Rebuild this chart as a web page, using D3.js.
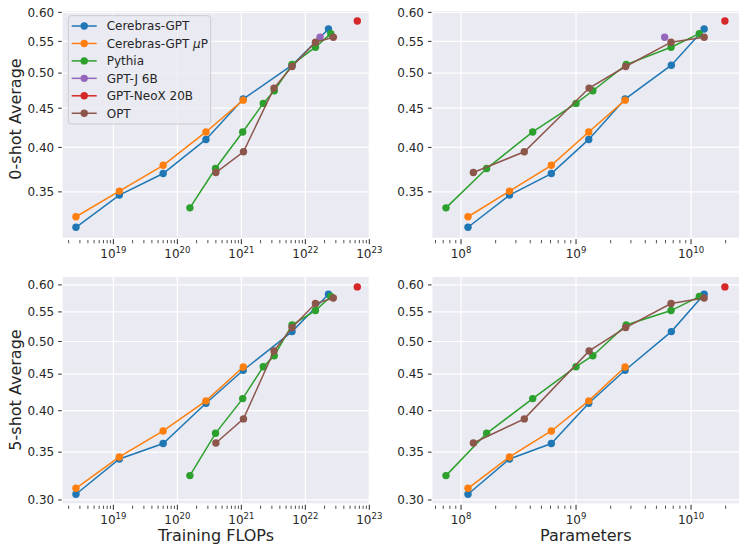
<!DOCTYPE html>
<html><head><meta charset="utf-8">
<script src="https://cdn.jsdelivr.net/npm/d3@7"></script>
<style>
html,body{margin:0;padding:0;background:#fff;}
svg{display:block;font-family:"DejaVu Sans",sans-serif;}
</style></head>
<body>
<svg id="c" width="747" height="554"></svg>
<script>
// ---- data ----
const seriesNames = ["Cerebras-GPT", "Cerebras-GPT μP", "Pythia", "GPT-J 6B", "GPT-NeoX 20B", "OPT"];
const seriesColors = ["#1f77b4", "#ff7f0e", "#2ca02c", "#9467bd", "#d62728", "#8c564b"];

const cerebrasFlops  = [2.6e18, 1.24e19, 6.0e19, 2.8e20, 1.07e21, 6.2e21, 2.3e22];
const cerebrasParams = [1.15e8, 2.64e8, 6.1e8, 1.29e9, 2.67e9, 6.74e9, 1.3e10];
const cerebras0shot  = [0.3147, 0.3466, 0.3698, 0.4097, 0.4625, 0.512, 0.5708];
const cerebras5shot  = [0.3056, 0.3424, 0.3599, 0.4097, 0.4557, 0.5162, 0.5822];

const muPFlops  = [2.6e18, 1.24e19, 6.0e19, 2.8e20, 1.07e21];
const muPParams = [1.15e8, 2.64e8, 6.1e8, 1.29e9, 2.67e9];
const muP0shot  = [0.3248, 0.3508, 0.3791, 0.419, 0.461];
const muP5shot  = [0.3115, 0.3446, 0.3747, 0.4129, 0.4605];

const pythiaFlops  = [1.57e20, 3.95e20, 1.05e21, 2.2e21, 3.27e21, 6.2e21, 1.44e22, 2.5e22];
const pythiaParams = [7.4e7, 1.67e8, 4.2e8, 1.0e9, 1.4e9, 2.73e9, 6.7e9, 1.18e10];
const pythia0shot  = [0.3336, 0.3754, 0.419, 0.4565, 0.4742, 0.513, 0.5404, 0.5629];
const pythia5shot  = [0.3245, 0.3719, 0.4159, 0.461, 0.4776, 0.5274, 0.5524, 0.5779];

const gptjFlops  = [1.7e22];
const gptjParams = [5.9e9];
const gptj0shot  = [0.5569];
const gptj5shot  = [null];

const neoxFlops  = [6.5e22];
const neoxParams = [1.97e10];
const neox0shot  = [0.5846];
const neox5shot  = [0.5962];

const optFlops  = [4.0e20, 1.08e21, 3.24e21, 6.2e21, 1.44e22, 2.74e22];
const optParams = [1.28e8, 3.55e8, 1.3e9, 2.7e9, 6.7e9, 1.3e10];
const opt0shot  = [0.3709, 0.3948, 0.478, 0.51, 0.5486, 0.5569];
const opt5shot  = [0.3605, 0.3896, 0.485, 0.523, 0.565, 0.5753];

const yTicksTop = [0.35, 0.40, 0.45, 0.50, 0.55, 0.60];
const yTicksBottom = [0.30, 0.35, 0.40, 0.45, 0.50, 0.55, 0.60];
const yLabels = ["0-shot Average", "5-shot Average"];
const xLabels = ["Training FLOPs", "Parameters"];

// ---- build table ----
const table = [
  {flops: cerebrasFlops, params: cerebrasParams, s0: cerebras0shot, s5: cerebras5shot},
  {flops: muPFlops, params: muPParams, s0: muP0shot, s5: muP5shot},
  {flops: pythiaFlops, params: pythiaParams, s0: pythia0shot, s5: pythia5shot},
  {flops: gptjFlops, params: gptjParams, s0: gptj0shot, s5: gptj5shot},
  {flops: neoxFlops, params: neoxParams, s0: neox0shot, s5: neox5shot},
  {flops: optFlops, params: optParams, s0: opt0shot, s5: opt5shot},
].map((d, i) => ({...d, name: seriesNames[i], color: seriesColors[i]}));

const svg = d3.select("#c");
const textColor = "#262626";
const bg = "#eaeaf2";

const colsX = [
  {key: "flops", range: [62.7, 369.3], domain: [Math.pow(10, 18.208), Math.pow(10, 23.0)]},
  {key: "params", range: [432.5, 739], domain: [Math.pow(10, 7.752), Math.pow(10, 10.417)]},
];
const rowsY = [
  {key: "s0", range: [237.7, 11], domain: [0.305, 0.6025], ticks: yTicksTop, label: yLabels[0], labelY: 119},
  {key: "s5", range: [503.3, 277], domain: [0.2968, 0.6155], ticks: yTicksBottom, label: yLabels[1], labelY: 390},
];

rowsY.forEach((row, ri) => {
  colsX.forEach((col, ci) => {
    const x = d3.scaleLog().domain(col.domain).range(col.range);
    const y = d3.scaleLog().domain(row.domain).range(row.range);
    const g = svg.append("g");
    const [x0, x1] = col.range, [y1, y0] = row.range;
    g.append("rect").attr("x", x0).attr("y", y0).attr("width", x1 - x0).attr("height", y1 - y0).attr("fill", bg);

    const allX = x.ticks();
    const isMajor = v => Math.abs(Math.log10(v) - Math.round(Math.log10(v))) < 1e-6;
    const majors = allX.filter(isMajor);
    const minors = allX.filter(v => !isMajor(v));

    // grid
    g.selectAll(null).data(majors).enter().append("line")
      .attr("x1", d => x(d)).attr("x2", d => x(d)).attr("y1", y0).attr("y2", y1)
      .attr("stroke", "#fff").attr("stroke-width", 1.2);
    g.selectAll(null).data(row.ticks).enter().append("line")
      .attr("x1", x0).attr("x2", x1).attr("y1", d => y(d)).attr("y2", d => y(d))
      .attr("stroke", "#fff").attr("stroke-width", 1.2);

    // x ticks
    g.selectAll(null).data(majors).enter().append("line")
      .attr("x1", d => x(d)).attr("x2", d => x(d)).attr("y1", y1 + 1.5).attr("y2", y1 + 6.5)
      .attr("stroke", textColor).attr("stroke-width", 1);
    g.selectAll(null).data(minors).enter().append("line")
      .attr("x1", d => x(d)).attr("x2", d => x(d)).attr("y1", y1 + 2.3).attr("y2", y1 + 5.6)
      .attr("stroke", textColor).attr("stroke-width", 0.8);
    const xt = g.selectAll(null).data(majors).enter().append("text")
      .attr("x", d => x(d)).attr("y", y1 + 20.6).attr("text-anchor", "middle")
      .attr("font-size", 12).attr("fill", textColor);
    xt.append("tspan").text("10");
    xt.append("tspan").attr("dy", -5).attr("font-size", 8.5).text(d => Math.round(Math.log10(d)));

    // y ticks
    g.selectAll(null).data(row.ticks).enter().append("line")
      .attr("x1", x0 - 4.5).attr("x2", x0 - 1).attr("y1", d => y(d)).attr("y2", d => y(d))
      .attr("stroke", textColor).attr("stroke-width", 1);
    g.selectAll(null).data(row.ticks).enter().append("text")
      .attr("x", x0 - 8.5).attr("y", d => y(d)).attr("dy", "0.36em").attr("text-anchor", "end")
      .attr("font-size", 12).attr("fill", textColor).text(d => d.toFixed(2));

    // series
    table.forEach(s => {
      const pts = s[col.key].map((v, i) => [v, s[row.key][i]]).filter(p => p[1] != null);
      if (!pts.length) return;
      if (pts.length > 1) {
        g.append("path").datum(pts)
          .attr("d", d3.line().x(p => x(p[0])).y(p => y(p[1])))
          .attr("fill", "none").attr("stroke", s.color).attr("stroke-width", 1.5);
      }
      g.selectAll(null).data(pts).enter().append("circle")
        .attr("cx", p => x(p[0])).attr("cy", p => y(p[1])).attr("r", 3.7).attr("fill", s.color);
    });

    if (ci === 0) {
      svg.append("text").attr("transform", `translate(21,${row.labelY}) rotate(-90)`)
        .attr("text-anchor", "middle").attr("font-size", 16).attr("fill", textColor).text(row.label);
    }
    if (ri === 1) {
      svg.append("text").attr("x", (x0 + x1) / 2).attr("y", 541).attr("text-anchor", "middle")
        .attr("font-size", 16).attr("fill", textColor).text(xLabels[ci]);
    }
  });
});

// legend
const lg = svg.append("g");
lg.append("rect").attr("x", 68.3).attr("y", 15.7).attr("width", 142.4).attr("height", 108.3)
  .attr("rx", 3).attr("fill", bg).attr("fill-opacity", 0.8).attr("stroke", "#cccccc").attr("stroke-width", 1);
table.forEach((s, i) => {
  const cy = 26 + i * 17.45;
  lg.append("line").attr("x1", 71.7).attr("x2", 96.7).attr("y1", cy).attr("y2", cy)
    .attr("stroke", s.color).attr("stroke-width", 1.5);
  lg.append("circle").attr("cx", 84.2).attr("cy", cy).attr("r", 3.7).attr("fill", s.color);
  const t = lg.append("text").attr("x", 106.7).attr("y", cy).attr("dy", "0.36em")
    .attr("font-size", 12).attr("fill", textColor);
  if (s.name.endsWith("μP")) {
    t.append("tspan").text(s.name.replace(" μP", " "));
    t.append("tspan").attr("font-style", "italic").text("μ");
    t.append("tspan").text("P");
  } else t.text(s.name);
});
</script>
</body></html>
